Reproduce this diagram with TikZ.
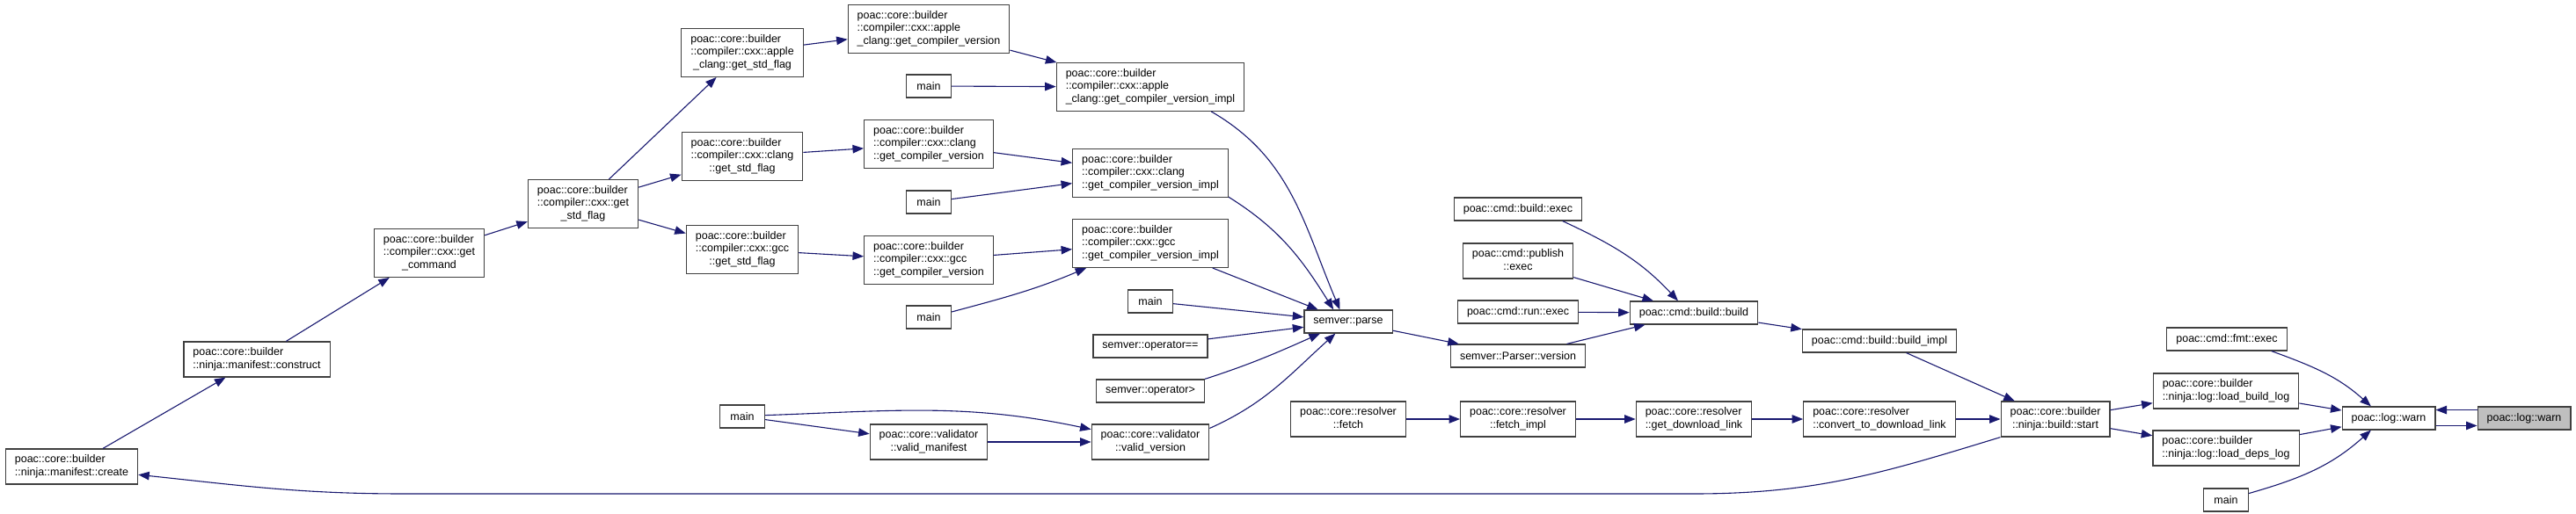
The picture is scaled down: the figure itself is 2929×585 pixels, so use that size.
\documentclass[tikz,border=0pt]{standalone}
\usepackage{fontspec}
\setmainfont{Liberation Sans}
\usetikzlibrary{arrows.meta}
\definecolor{edgeblue}{RGB}{25,25,112}
\newcommand{\fnii}[2]{\begin{tabular}{@{}l@{}}#1\\\multicolumn{1}{@{}c@{}}{#2}\end{tabular}}
\newcommand{\fniii}[3]{\begin{tabular}{@{}l@{}}#1\\#2\\\multicolumn{1}{@{}c@{}}{#3}\end{tabular}}

\begin{document}
\begin{tikzpicture}[x=1pt,y=1pt,
        fn/.style={draw=black!75,line width=1.2pt,fill=white,inner xsep=10.5pt,inner ysep=5.3pt,
            minimum width=51pt,minimum height=26pt,font=\fontsize{12.5pt}{14.7pt}\selectfont},
        fncur/.style={fn,fill=black!25},
        call/.style={draw=edgeblue,line width=1.1pt,-{Triangle[length=12.5pt,width=9.5pt]}}]
    \fill[white] (0,0) rectangle (2929,-585);

    \node[fn] (create) at (81.5,-531) {\fnii{poac::core::builder}{::ninja::manifest::create}};
    \node[fn] (construct) at (292,-409) {\fnii{poac::core::builder}{::ninja::manifest::construct}};
    \node[fn] (getcmd) at (488,-288) {\fniii{poac::core::builder}{::compiler::cxx::get}{\_command}};
    \node[fn] (getstd) at (663,-232) {\fniii{poac::core::builder}{::compiler::cxx::get}{\_std\_flag}};

    \node[fn] (applestd) at (844,-60) {\fniii{poac::core::builder}{::compiler::cxx::apple}{\_clang::get\_std\_flag}};
    \node[fn] (clangstd) at (844,-178) {\fniii{poac::core::builder}{::compiler::cxx::clang}{::get\_std\_flag}};
    \node[fn] (gccstd) at (844,-284) {\fniii{poac::core::builder}{::compiler::cxx::gcc}{::get\_std\_flag}};
    \node[fn] (mainE) at (844,-474) {main};

    \node[fn] (applever) at (1056,-33) {\fniii{poac::core::builder}{::compiler::cxx::apple}{\_clang::get\_compiler\_version}};
    \node[fn] (mainA) at (1056,-98) {main};
    \node[fn] (clangver) at (1056,-164) {\fniii{poac::core::builder}{::compiler::cxx::clang}{::get\_compiler\_version}};
    \node[fn] (mainB) at (1056,-230) {main};
    \node[fn] (gccver) at (1056,-296) {\fniii{poac::core::builder}{::compiler::cxx::gcc}{::get\_compiler\_version}};
    \node[fn] (mainC) at (1056,-361) {main};
    \node[fn] (validman) at (1056,-503) {\fnii{poac::core::validator}{::valid\_manifest}};

    \node[fn] (appleimpl) at (1308,-99) {\fniii{poac::core::builder}{::compiler::cxx::apple}{\_clang::get\_compiler\_version\_impl}};
    \node[fn] (clangimpl) at (1308,-197) {\fniii{poac::core::builder}{::compiler::cxx::clang}{::get\_compiler\_version\_impl}};
    \node[fn] (gccimpl) at (1308,-277) {\fniii{poac::core::builder}{::compiler::cxx::gcc}{::get\_compiler\_version\_impl}};
    \node[fn] (mainD) at (1308,-343) {main};
    \node[fn] (opeq) at (1308,-394) {semver::operator==};
    \node[fn] (opgt) at (1308,-445) {semver::operator>};
    \node[fn] (validver) at (1308,-503) {\fnii{poac::core::validator}{::valid\_version}};

    \node[fn] (parse) at (1533,-366) {semver::parse};
    \node[fn] (fetch) at (1533,-477) {\fnii{poac::core::resolver}{::fetch}};

    \node[fn] (buildexec) at (1726,-238) {poac::cmd::build::exec};
    \node[fn] (publish) at (1726,-297) {\fnii{poac::cmd::publish}{::exec}};
    \node[fn] (runexec) at (1726,-355) {poac::cmd::run::exec};
    \node[fn] (parserver) at (1726,-405) {semver::Parser::version};
    \node[fn] (fetchimpl) at (1726,-477) {\fnii{poac::core::resolver}{::fetch\_impl}};

    \node[fn] (build) at (1926,-356) {poac::cmd::build::build};
    \node[fn] (getlink) at (1926,-477) {\fnii{poac::core::resolver}{::get\_download\_link}};

    \node[fn] (buildimpl) at (2137,-388) {poac::cmd::build::build\_impl};
    \node[fn] (convert) at (2137,-477) {\fnii{poac::core::resolver}{::convert\_to\_download\_link}};

    \node[fn] (start) at (2337,-477) {\fnii{poac::core::builder}{::ninja::build::start}};

    \node[fn] (fmtexec) at (2532,-386) {poac::cmd::fmt::exec};
    \node[fn] (loadbuild) at (2531,-445) {\fnii{poac::core::builder}{::ninja::log::load\_build\_log}};
    \node[fn] (loaddeps) at (2531,-510) {\fnii{poac::core::builder}{::ninja::log::load\_deps\_log}};
    \node[fn] (mainF) at (2531,-569) {main};

    \node[fn] (warn) at (2716,-476) {poac::log::warn};
    \node[fncur] (warnsel) at (2870,-476) {poac::log::warn};

    \coordinate (bendR) at (1926,-562);
    \coordinate (bendL) at (459,-562);

    \draw[call] (create) -- (construct);
    \draw[call] (construct) -- (getcmd);
    \draw[call] (getcmd) -- (getstd);
    \draw[call] (getstd) -- (applestd);
    \draw[call] (getstd) -- (clangstd);
    \draw[call] (getstd) -- (gccstd);
    \draw[call] (applestd) -- (applever);
    \draw[call] (clangstd) -- (clangver);
    \draw[call] (gccstd) -- (gccver);
    \draw[call] (applever) -- (appleimpl);
    \draw[call] (mainA) -- (appleimpl);
    \draw[call] (clangver) -- (clangimpl);
    \draw[call] (mainB) -- (clangimpl);
    \draw[call] (gccver) -- (gccimpl);
    \draw[call] (mainC.13) to[out=15,in=-157] (gccimpl.-159);

    \draw[call] (appleimpl.-22) to[out=-30,in=113] (parse.125);
    \draw[call] (clangimpl.-17) to[out=-32,in=122] (parse.141);
    \draw[call] (gccimpl) -- (parse);
    \draw[call] (mainD) -- (parse);
    \draw[call] (opeq) -- (parse);
    \draw[call] (opgt.north east) to[out=18,in=-156] (parse.-157);
    \draw[call] (validver.13) to[out=24,in=-138] (parse.-137);
    \draw[call] (mainE.3) to[out=2,in=168] (validver.168);
    \draw[call] (mainE) -- (validman);
    \draw[call] (validman) -- (validver);

    \draw[call] (parse) -- (parserver);
    \draw[call] (buildexec.-15) to[out=-25,in=133] (build.143);
    \draw[call] (publish) -- (build);
    \draw[call] (runexec) -- (build);
    \draw[call] (parserver) -- (build);
    \draw[call] (build) -- (buildimpl);
    \draw[call] (buildimpl) -- (start);

    \draw[call] (fetch) -- (fetchimpl);
    \draw[call] (fetchimpl) -- (getlink);
    \draw[call] (getlink) -- (convert);
    \draw[call] (convert) -- (start);
    \draw[call] (start.south west) to[out=-163,in=0] (bendR) -- (bendL) to[out=180,in=-6] (create.-7);

    \draw[call] (start) -- (loadbuild);
    \draw[call] (start) -- (loaddeps);
    \draw[call] (fmtexec.-15) to[out=-20,in=138] (warn.146);
    \draw[call] (loadbuild) -- (warn);
    \draw[call] (loaddeps) -- (warn);
    \draw[call] (mainF.16) to[out=16,in=-138] (warn.-146);
    \draw[call] (warnsel.170) -- (warn.10);
    \draw[call] (warn.-9) -- (warnsel.-171);
\end{tikzpicture}
\end{document}
